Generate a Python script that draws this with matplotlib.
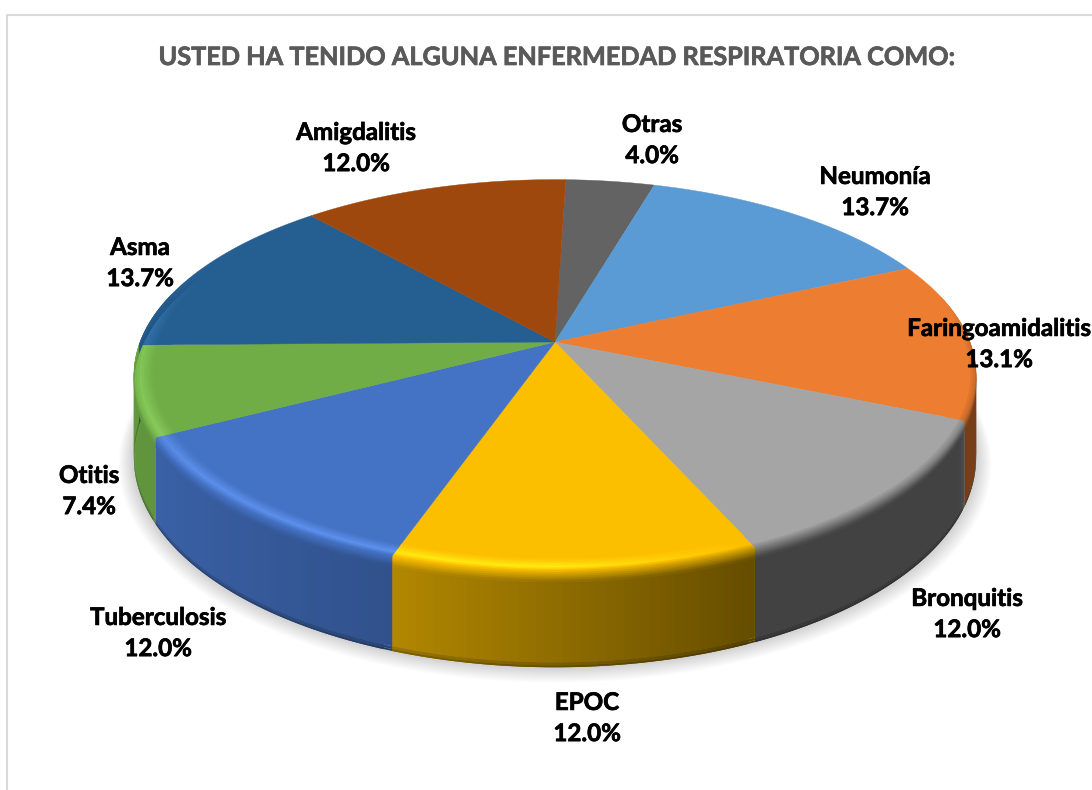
import numpy as np
import matplotlib
matplotlib.use("Agg")
import matplotlib.pyplot as plt
import matplotlib.patheffects as pe
from matplotlib.collections import PolyCollection
from matplotlib.colors import to_rgb

TITLE = "USTED HA TENIDO ALGUNA ENFERMEDAD RESPIRATORIA COMO:"
categories = ["Otras", "Neumonía", "Faringoamidalitis", "Bronquitis", "EPOC",
              "Tuberculosis", "Otitis", "Asma", "Amigdalitis"]
values = [4.0, 13.7, 13.1, 12.0, 12.0, 12.0, 7.4, 13.7, 12.0]
colors = ["#636363", "#5B9BD5", "#ED7D31", "#A5A5A5", "#FBBF00",
          "#4472C4", "#70AD47", "#255E91", "#9E480E"]

# label centres in pixels, same order as categories
label_pos = [(652, 140), (875, 192), (999, 344), (967, 614), (587, 718),
             (158, 633), (89, 491), (140, 263), (356, 148)]

# fake 3d camera, fitted to the picture
CX, CY = 555, 342
RX, RY = 415, 190
K = 0.17
DEPTH = 80
LIP = 0.11  # part of the depth used by the rounded top edge


def proj(phi, r=1.0, z=0.0):
    # phi is clockwise from 12 o'clock, z goes down
    phi = np.radians(phi)
    x, y = r * np.sin(phi), r * np.cos(phi)
    w = 1 + K * y
    return CX + RX * x / w, CY - (RY * y - z) / w


def side_shade(phi):
    # wall gets darker from left to right
    x = np.sin(np.radians(phi))
    return np.interp(x, [-1, -0.33, 0.41, 0.9, 0.93, 1], [0.88, 0.71, 0.40, 0.40, 0.5, 0.5])


def rim_highlight(phi):
    x = np.sin(np.radians(phi))
    return np.interp(x, [-1, -0.8, 0, 0.4, 1], [0.08, 0.12, 0.14, 0.0, 0.0])


def rim_amount(phi):
    # rounded edge only shows on the front, a bit further up on the left
    p = np.radians(phi)
    y, x = np.cos(p), np.sin(p)
    top = 0.4 if x < 0 else 0.2
    return np.clip((top - y) / 0.3, 0, 1)


def scaled(color, f):
    return tuple(np.clip(np.array(color) * f, 0, 1))


fig = plt.figure(figsize=(10.92, 7.9), dpi=100, facecolor="white")
ax = fig.add_axes([0, 0, 1, 1])
wedges, _ = ax.pie(values, startangle=90 - 1.75, counterclock=False, colors=colors)
spans = [(90 - w.theta2, 90 - w.theta1) for w in wedges]
for w in wedges:
    w.set_visible(False)
ax.set_aspect("auto")
ax.set_xlim(0, 1092)
ax.set_ylim(790, 0)
ax.axis("off")

# chart frame, open at right and bottom
ax.plot([7, 7, 1092], [790, 15, 15], color="#D9D9D9", lw=1.5, zorder=1)

# soft shadow
circle = np.linspace(0, 360, 361)
for i in range(16):
    t = i / 15
    sx, sy = proj(circle, 1.035 - 0.035 * t, DEPTH + 4 - 4 * t)
    ax.fill(sx, sy, color="black", alpha=0.011, lw=0, zorder=2)

# walls, each strip reaches past the next one so no seams show
wall_polys, wall_cols = [], []
for (a, b), c in zip(spans, colors):
    base = to_rgb(c)
    n = max(int((b - a) / 1.0), 2)
    ph = np.linspace(a, b, n + 1)
    for p0, p1 in zip(ph[:-1], ph[1:]):
        m = (p0 + p1) / 2
        if np.cos(np.radians(m)) > 0.25:
            continue
        p1 = min(p1 + 1.0, b)
        for z0, z1, f in [(0, 0.95, 1.0), (0.95, 0.98, 0.86), (0.98, 1.0, 0.72)]:
            x0, y0 = proj(p0, 1, z0 * DEPTH)
            x1, y1 = proj(p1, 1, z0 * DEPTH)
            x2, y2 = proj(p1, 1, z1 * DEPTH)
            x3, y3 = proj(p0, 1, z1 * DEPTH)
            wall_polys.append([(x0, y0), (x1, y1), (x2, y2), (x3, y3)])
            wall_cols.append(scaled(base, side_shade(m) * f))
ax.add_collection(PolyCollection(wall_polys, facecolors=wall_cols, edgecolors="none",
                                 linewidths=0, zorder=3))

# flat top of every slice
for (a, b), c in zip(spans, colors):
    ph = np.linspace(a, b, 80)
    x, y = proj(ph)
    ax.fill(np.r_[CX, x], np.r_[CY, y], color=c, lw=0.3, zorder=4)

# rounded edge, drawn as small cells over the outer ring
steps = np.linspace(0, 1, 15)
rim_polys, rim_cols = [], []
for (a, b), c in zip(spans, colors):
    base = to_rgb(c)
    n = max(int((b - a) / 0.5), 2)
    ph = np.linspace(a, b, n + 1)
    for p0, p1 in zip(ph[:-1], ph[1:]):
        m = (p0 + p1) / 2
        amt = rim_amount(m)
        if amt <= 0:
            continue
        p1 = min(p1 + 0.5, b)
        for t0, t1 in zip(steps[:-1], steps[1:]):
            # ring first goes outwards, then bends down the wall
            r0 = 0.955 + 0.045 * min(t0 / 0.6, 1)
            r1 = 0.955 + 0.045 * min(t1 / 0.6, 1)
            z0 = DEPTH * LIP * max((t0 - 0.6) / 0.4, 0)
            z1 = DEPTH * LIP * max((t1 - 0.6) / 0.4, 0) + 0.5
            tm = (t0 + t1) / 2
            f = np.interp(tm, [0, 0.4, 1], [1, 1 + rim_highlight(m), side_shade(m)])
            f = 1 + (f - 1) * amt
            x0, y0 = proj(p0, r0, z0)
            x1, y1 = proj(p1, r0, z0)
            x2, y2 = proj(p1, r1, z1)
            x3, y3 = proj(p0, r1, z1)
            rim_polys.append([(x0, y0), (x1, y1), (x2, y2), (x3, y3)])
            col = np.clip(np.array(base) * f + max(f - 1, 0) * 0.5, 0, 1)
            rim_cols.append(tuple(col))
ax.add_collection(PolyCollection(rim_polys, facecolors=rim_cols, edgecolors="none",
                                 linewidths=0, zorder=5))

# text, thin stroke because Lato bold is lighter than the original font
ax.text(556, 57.5, TITLE, ha="center", va="center", fontsize=18.2, fontweight="bold",
        family="Lato", color="#595959", zorder=6,
        path_effects=[pe.withStroke(linewidth=0.5, foreground="#595959")])
for name, val, (lx, ly) in zip(categories, values, label_pos):
    ax.text(lx, ly, "{}\n{:.1f}%".format(name, val), ha="center", va="center",
            fontsize=17.4, fontweight="bold", family="Lato", color="black",
            linespacing=1.43, zorder=7,
            path_effects=[pe.withStroke(linewidth=0.5, foreground="black")])

fig.savefig("out.png", dpi=100, facecolor="white")
